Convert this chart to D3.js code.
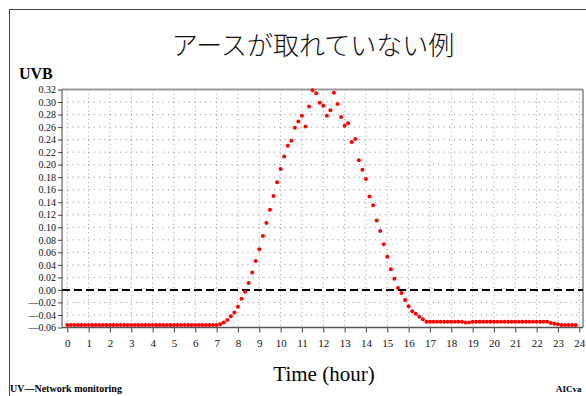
<!DOCTYPE html>
<html>
<head>
<meta charset="utf-8">
<script src="https://cdn.jsdelivr.net/npm/d3@7"></script>
<style>
  html, body { margin: 0; padding: 0; background: #fff; }
  svg { display: block; }
</style>
</head>
<body>
<svg id="chart" width="586" height="396"></svg>
<script>
// Chart data: one value every 10 minutes, 0:00 - 23:50
const hours = [0, 1, 2, 3, 4, 5, 6, 7, 8, 9, 10, 11, 12, 13, 14, 15, 16, 17, 18, 19, 20, 21, 22, 23, 24];
const yTicks = [-0.06, -0.04, -0.02, 0.00, 0.02, 0.04, 0.06, 0.08, 0.10, 0.12, 0.14, 0.16, 0.18,
  0.20, 0.22, 0.24, 0.26, 0.28, 0.30, 0.32];
const uvb = [
  -0.056, -0.056, -0.056, -0.056, -0.056, -0.056,   // 0h
  -0.056, -0.056, -0.056, -0.056, -0.056, -0.056,   // 1h
  -0.056, -0.056, -0.056, -0.056, -0.056, -0.056,   // 2h
  -0.056, -0.056, -0.056, -0.056, -0.056, -0.056,   // 3h
  -0.056, -0.056, -0.056, -0.056, -0.056, -0.056,   // 4h
  -0.056, -0.056, -0.056, -0.056, -0.056, -0.056,   // 5h
  -0.056, -0.056, -0.056, -0.056, -0.056, -0.056,   // 6h
  -0.056, -0.055, -0.052, -0.048, -0.042, -0.036,   // 7h
  -0.027, -0.014, -0.003, 0.011, 0.028, 0.046,      // 8h
  0.065, 0.086, 0.107, 0.128, 0.150, 0.172,         // 9h
  0.193, 0.213, 0.230, 0.238, 0.259, 0.269,         // 10h
  0.278, 0.261, 0.293, 0.319, 0.314, 0.299,         // 11h
  0.294, 0.278, 0.287, 0.315, 0.297, 0.276,         // 12h
  0.262, 0.266, 0.236, 0.241, 0.207, 0.192,         // 13h
  0.177, 0.149, 0.135, 0.111, 0.094, 0.073,         // 14h
  0.053, 0.033, 0.018, 0.003, -0.005, -0.016,       // 15h
  -0.026, -0.034, -0.038, -0.043, -0.047, -0.051,   // 16h
  -0.051, -0.051, -0.051, -0.051, -0.051, -0.051,   // 17h
  -0.051, -0.051, -0.051, -0.051, -0.052, -0.052,   // 18h
  -0.051, -0.051, -0.051, -0.051, -0.051, -0.051,   // 19h
  -0.051, -0.051, -0.051, -0.051, -0.051, -0.051,   // 20h
  -0.051, -0.051, -0.051, -0.051, -0.051, -0.051,   // 21h
  -0.051, -0.051, -0.051, -0.051, -0.053, -0.054,   // 22h
  -0.055, -0.056, -0.056, -0.056, -0.056, -0.056    // 23h
];

const serif = "'Liberation Serif', 'DejaVu Serif', serif";
const svg = d3.select('#chart');

// Plot frame
const plotLeft = 62, plotRight = 583, plotTop = 89.5, plotBottom = 327.5;

const x = d3.scaleLinear().domain([0, 24]).range([67.3, 579.3]);
const y = d3.scaleLinear().domain([-0.06, 0.32]).range([plotBottom, plotTop]);

// Page frame lines
svg.append("line").attr("x1", 9).attr("x2", 586).attr("y1", 9.5).attr("y2", 9.5)
  .style("stroke", "#444").style("stroke-width", 1);
svg.append("line").attr("x1", 9.5).attr("x2", 9.5).attr("y1", 9).attr("y2", 396)
  .style("stroke", "#444").style("stroke-width", 1);

// Title
svg.append("text")
  .attr("x", 313).attr("y", 55)
  .attr("text-anchor", "middle")
  .style("font-family", "'Noto Sans CJK JP', sans-serif")
  .style("font-size", "26px")
  .style("font-weight", 300)
  .style("fill", "#111")
  .text("アースが取れていない例");

svg.append("text")
  .attr("x", 19).attr("y", 79)
  .style("font-family", serif)
  .style("font-size", "16px")
  .style("font-weight", "bold")
  .text("UVB");

// Grid
const grid = svg.append("g");
grid.selectAll("line.v")
  .data(hours)
  .join("line")
  .attr("class", "v")
  .attr("x1", d => x(d)).attr("x2", d => x(d))
  .attr("y1", plotTop).attr("y2", plotBottom)
  .style("stroke", "#999")
  .style("stroke-dasharray", "1,3.2");

grid.selectAll("line.h")
  .data(yTicks.filter(d => d !== 0))
  .join("line")
  .attr("class", "h")
  .attr("x1", plotLeft).attr("x2", plotRight)
  .attr("y1", d => y(d)).attr("y2", d => y(d))
  .style("stroke", "#888")
  .style("stroke-dasharray", "1,4.3");

// Zero line
svg.append("line")
  .attr("x1", plotLeft).attr("x2", plotRight)
  .attr("y1", y(0)).attr("y2", y(0))
  .style("stroke", "#000")
  .style("stroke-width", 2)
  .style("stroke-dasharray", "8,4");

// Axes
const yAxis = svg.append("g")
  .attr("transform", `translate(${plotLeft},0)`)
  .call(d3.axisLeft(y)
    .tickValues(yTicks)
    .tickSize(4)
    .tickPadding(2)
    .tickFormat(d => (d < -1e-9 ? "\u2014" : "") + d3.format(".2f")(Math.abs(d))));
yAxis.select(".domain").remove();
yAxis.selectAll("line").style("stroke", "#444");
yAxis.selectAll("text")
  .style("font-family", serif)
  .style("font-size", "10px")
  .style("fill", "#111");

const xAxis = svg.append("g")
  .attr("transform", `translate(0,${plotBottom})`)
  .call(d3.axisBottom(x).tickValues(hours).tickSize(5).tickPadding(7).tickFormat(d3.format("d")));
xAxis.select(".domain").remove();
xAxis.selectAll("line").style("stroke", "#444");
xAxis.selectAll("text")
  .style("font-family", serif)
  .style("font-size", "11px")
  .style("fill", "#111");

// Border of plot area
svg.append("line").attr("x1", plotLeft).attr("x2", plotRight).attr("y1", plotTop).attr("y2", plotTop)
  .style("stroke", "#999").style("stroke-width", 2);
svg.append("line").attr("x1", plotLeft).attr("x2", plotLeft).attr("y1", plotTop).attr("y2", plotBottom)
  .style("stroke", "#444");
svg.append("line").attr("x1", plotRight).attr("x2", plotRight).attr("y1", plotTop).attr("y2", plotBottom)
  .style("stroke", "#444");
svg.append("line").attr("x1", plotLeft).attr("x2", plotRight).attr("y1", plotBottom).attr("y2", plotBottom)
  .style("stroke", "#555").style("stroke-width", 1.5);

// Data points
svg.append("g")
  .selectAll("circle")
  .data(uvb)
  .join("circle")
  .attr("cx", (d, i) => x(i / 6))
  .attr("cy", d => y(d))
  .attr("r", 2)
  .style("fill", "#ff0000");

// X title
svg.append("text")
  .attr("x", 324).attr("y", 381)
  .attr("text-anchor", "middle")
  .style("font-family", serif)
  .style("font-size", "21px")
  .text("Time (hour)");

// Footer
svg.append("text")
  .attr("x", 10).attr("y", 392)
  .style("font-family", serif)
  .style("font-size", "10px")
  .style("font-weight", "bold")
  .text("UV\u2014Network monitoring");

svg.append("text")
  .attr("x", 556).attr("y", 392)
  .style("font-family", serif)
  .style("font-size", "9px")
  .style("font-weight", "bold")
  .text("AICva");
</script>
</body>
</html>
